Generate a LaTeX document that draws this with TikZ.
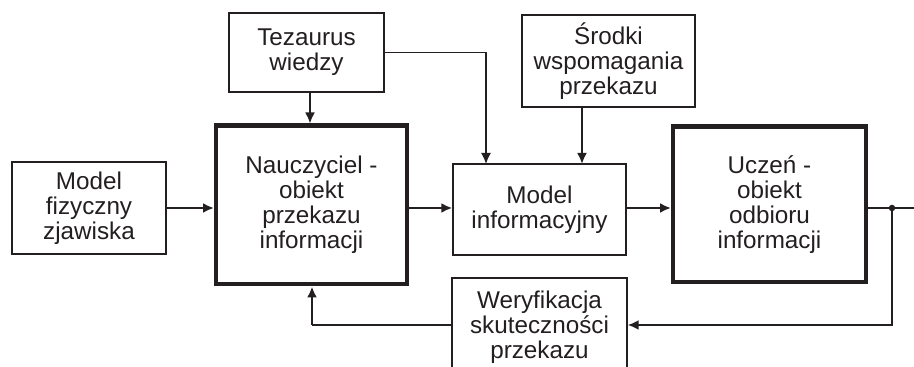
\documentclass[tikz,border=0pt]{standalone}
\usepackage{fontspec}
\setmainfont{Liberation Sans}
\usetikzlibrary{arrows.meta, calc}
\definecolor{inkgray}{HTML}{231F20}
\tikzset{
	blocknode/.style={
			draw=inkgray,
			line width=0.8pt,
			fill=white,
			text=inkgray,
			align=center,
			inner sep=0pt,
			font=\fontsize{13.8}{14.2}\selectfont
		},
	mainnode/.style={
			blocknode,
			line width=2.3pt
		},
	flowline/.style={
			draw=inkgray,
			line width=1.7pt,
			-{Latex[length=2.2mm,width=2mm]}
		},
	sideline/.style={
			draw=inkgray,
			line width=1.1pt,
			-{Latex[length=2.2mm,width=2mm]}
		},
	plainline/.style={
			draw=inkgray,
			line width=0.9pt
		}
}

\begin{document}
\begin{tikzpicture}[x=0.02cm, y=-0.02cm]
\useasboundingbox (0,0) rectangle (914,367);

\node[blocknode, minimum width=3.08cm, minimum height=1.84cm] (tFiz) at (89,208) {Model\\fizyczny\\zjawiska};
\node[mainnode, minimum width=3.82cm, minimum height=3.18cm] (tNau) at (311.5,205) {Nauczyciel -\\obiekt\\przekazu\\informacji};
\node[blocknode, minimum width=3.10cm, minimum height=1.58cm] (tTez) at (306.5,52.5) {Tezaurus\\wiedzy};
\node[blocknode, minimum width=3.46cm, minimum height=1.82cm] (tMod) at (539.5,209.5) {Model\\informacyjny};
\node[blocknode, minimum width=3.46cm, minimum height=1.84cm] (tSro) at (608.5,61) {Środki\\wspomagania\\przekazu};
\node[mainnode, minimum width=3.86cm, minimum height=3.12cm] (tUcz) at (769.5,204.5) {Uczeń -\\obiekt\\odbioru\\informacji};
\node[blocknode, minimum width=3.50cm, minimum height=1.96cm] (tWer) at (539.5,327) {Weryfikacja\\skuteczności\\przekazu};

\coordinate (tTezIn) at (486,164);
\coordinate (tSroIn) at (582,164);
\coordinate (tTap) at (892,208);
\coordinate (tOut) at (914,208);
\coordinate (tBack) at (312,325);

% main flow
\draw[flowline] (tFiz.east |- tTap) -- (tNau.west |- tTap);
\draw[flowline] (tNau.east |- tTap) -- (tMod.west |- tTap);
\draw[flowline] (tMod.east |- tTap) -- (tUcz.west |- tTap);
\draw[flowline, -] (tUcz.east |- tTap) -- (tOut);
\fill[inkgray] (tTap) circle (0.065cm);

% inputs from above
\draw[sideline] (310,0 |- tTez.south) -- (310,0 |- tNau.north);
\draw[plainline, -{Latex[length=2.2mm,width=2mm]}] (tTez.east) -| (tTezIn);
\draw[flowline] (tSroIn |- tSro.south) -- (tSroIn);

% feedback
\draw[sideline] (tTap) |- (tWer.east |- tBack);
\draw[plainline] (tWer.west |- tBack) -- (tBack);
\draw[flowline] (tBack) -- (tBack |- tNau.south);

\end{tikzpicture}
\end{document}
